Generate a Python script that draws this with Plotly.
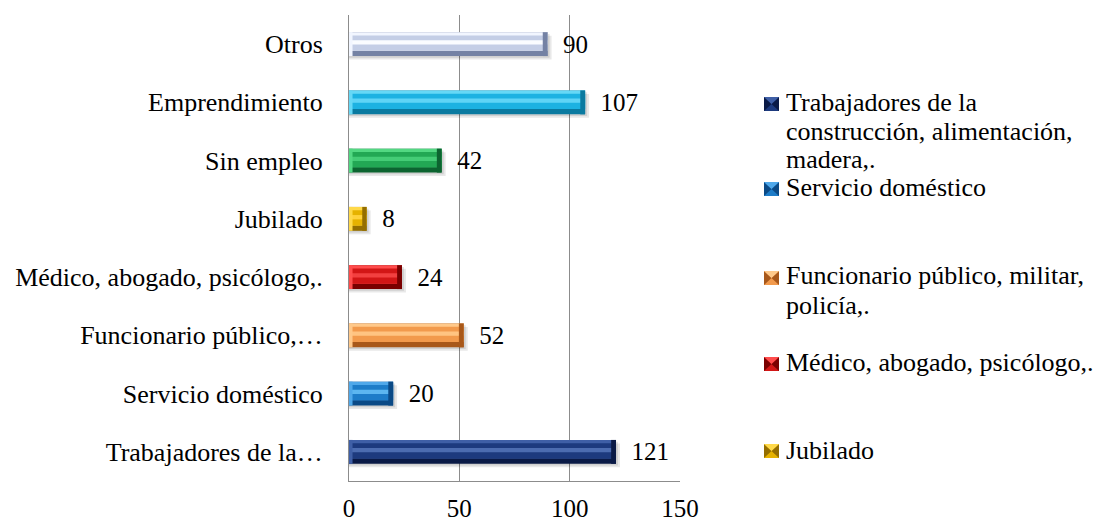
import plotly.graph_objects as go

# Ocupación: categorías (de abajo hacia arriba) y número de personas
categorias = [
    "Trabajadores de la…",
    "Servicio doméstico",
    "Funcionario público,…",
    "Médico, abogado, psicólogo,.",
    "Jubilado",
    "Sin empleo",
    "Emprendimiento",
    "Otros",
]
valores = [121, 20, 52, 24, 8, 42, 107, 90]

# Nombres completos que aparecen en la leyenda (una lista por entrada, una cadena por línea)
leyenda = [
    ["Trabajadores de la", "construcción, alimentación,", "madera,."],
    ["Servicio doméstico"],
    ["Funcionario público, militar,", "policía,."],
    ["Médico, abogado, psicólogo,."],
    ["Jubilado"],
]

# Colores por categoría: (cara, bisel claro, bisel oscuro, reflejo)
colores = [
    ("#1D3A7E", "#3F5FA6", "#0A1A46", "#4C6CB0"),
    ("#1D7CC8", "#4FA8EA", "#0B4A86", "#5CB6F0"),
    ("#F29A4C", "#FFC98A", "#A8581A", "#FFC482"),
    ("#D21616", "#FF4C4C", "#7A0000", "#F24040"),
    ("#E6B200", "#FFD94A", "#946E00", "#FFD23C"),
    ("#22A854", "#52D882", "#0C6430", "#44CC76"),
    ("#1DB2E2", "#66D8F6", "#0A7AA0", "#60D4F6"),
    ("#C4CEE6", "#F2F6FF", "#7482A4", "#FAFCFF"),
]

FUENTE = "Liberation Serif, Times New Roman, serif"
ANCHO = 0.41


def capa(cat, x, desde, hasta, color, base=None):
    """Franja horizontal de la barra entre dos fracciones de su grosor."""
    return go.Bar(
        y=[cat], x=[x], base=base, orientation="h",
        width=ANCHO * (hasta - desde), offset=-ANCHO / 2 + ANCHO * desde,
        marker=dict(color=color, line=dict(width=0)),
        hoverinfo="skip", showlegend=False,
    )


fig = go.Figure()

for i, (cat, val) in enumerate(zip(categorias, valores)):
    cara, claro, oscuro, reflejo = colores[i]
    # sombra difusa abajo a la derecha
    fig.add_trace(go.Bar(
        y=[cat], x=[val + 1.8], orientation="h", width=ANCHO,
        offset=-ANCHO / 2 - 0.06,
        marker=dict(color="rgba(0,0,0,0.09)", line=dict(width=0)),
        hoverinfo="skip", showlegend=False,
    ))
    fig.add_trace(go.Bar(
        y=[cat], x=[val + 0.9], orientation="h", width=ANCHO,
        offset=-ANCHO / 2 - 0.03,
        marker=dict(color="rgba(0,0,0,0.10)", line=dict(width=0)),
        hoverinfo="skip", showlegend=False,
    ))
    # cuerpo de la barra con su etiqueta de valor
    fig.add_trace(go.Bar(
        y=[cat], x=[val], orientation="h", width=ANCHO,
        marker=dict(color=oscuro, line=dict(width=0)),
        text=[val], texttemplate="  %{x}", textposition="outside",
        constraintext="none",
        textfont=dict(family=FUENTE, size=25, color="#000000"),
        cliponaxis=False, showlegend=False, name=cat,
    ))
    # bisel superior, cara y reflejo
    fig.add_trace(capa(cat, val, 0.22, 1.0, claro))
    fig.add_trace(capa(cat, val, 0.22, 0.86, cara))
    fig.add_trace(capa(cat, val, 0.48, 0.66, reflejo))
    # biseles de los extremos
    fig.add_trace(capa(cat, min(1.6, val * 0.2), 0.0, 1.0, claro, base=0))
    fig.add_trace(capa(cat, min(2.2, val * 0.25), 0.0, 1.0, oscuro,
                       base=val - min(2.2, val * 0.25)))

fig.update_layout(
    width=1100, height=523,
    margin=dict(l=349, r=420, t=15, b=42, autoexpand=False),
    paper_bgcolor="white", plot_bgcolor="white",
    barmode="overlay",
    font=dict(family=FUENTE, size=25, color="#000000"),
    xaxis=dict(
        range=[0, 150], tickvals=[0, 50, 100, 150],
        showgrid=True, gridcolor="#8C8C8C", gridwidth=1,
        showline=True, linecolor="#8C8C8C", linewidth=1,
        zeroline=False, ticks="", ticklabelstandoff=5,
        tickfont=dict(family=FUENTE, size=25),
        automargin=False, fixedrange=True,
    ),
    yaxis=dict(
        categoryorder="array", categoryarray=categorias,
        showline=True, linecolor="#8C8C8C", linewidth=1,
        showgrid=False, ticks="", ticklabelstandoff=20,
        tickfont=dict(family=FUENTE, size=26),
        automargin=False, fixedrange=True,
    ),
    showlegend=False,
)

# Leyenda (solo las primeras cinco categorías), en píxeles de la figura
X0, X1, Y0, Y1 = 349, 680, 15, 481


def px_x(px):
    return (px - X0) / (X1 - X0)


def px_y(py):
    return (Y1 - py) / (Y1 - Y0)


marcas_y = [104, 189, 278, 364, 451]
lineas_y = [[102, 131, 159], [187], [275, 305], [362], [450]]
for textos, fila, ys, (cara, claro, oscuro, _) in zip(leyenda, marcas_y, lineas_y, colores):
    xa, xb = px_x(764), px_x(779)
    ya, yb = px_y(fila + 7), px_y(fila - 7)
    xc, yc = (xa + xb) / 2, (ya + yb) / 2
    fig.add_shape(type="rect", xref="paper", yref="paper",
                  x0=xa, x1=xb, y0=ya, y1=yb,
                  fillcolor=cara, line=dict(width=0))
    # pirámide del símbolo: caras laterales oscuras, cara superior clara
    for path, color in [
        (f"M{xa},{ya} L{xc},{yc} L{xa},{yb} Z", oscuro),
        (f"M{xb},{ya} L{xc},{yc} L{xb},{yb} Z", oscuro),
        (f"M{xa},{yb} L{xc},{yc} L{xb},{yb} Z", claro),
    ]:
        fig.add_shape(type="path", xref="paper", yref="paper", path=path,
                      fillcolor=color, line=dict(width=0))
    for t, y in zip(textos, ys):
        fig.add_annotation(
            xref="paper", yref="paper", x=px_x(784), y=px_y(y),
            xanchor="left", yanchor="middle", align="left", showarrow=False,
            height=28, valign="middle",
            text=t, font=dict(family=FUENTE, size=26, color="#000000"),
        )

fig.write_html("out.html")
